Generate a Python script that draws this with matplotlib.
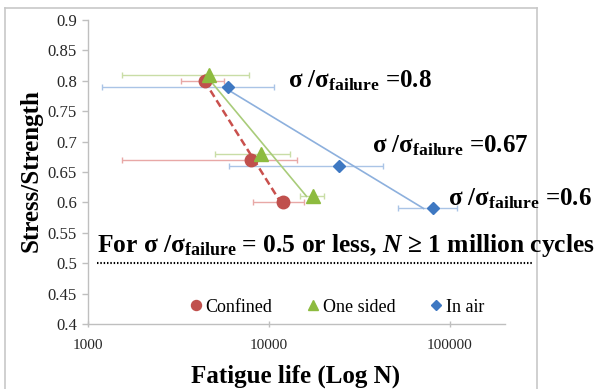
import numpy as np
import matplotlib
matplotlib.use("Agg")
import matplotlib.pyplot as plt
from matplotlib.lines import Line2D

# ---- data ----
series_names = ["Confined", "One sided", "In air"]
confined_N = [4450, 7950, 11900]
confined_S = [0.80, 0.67, 0.60]
confined_err = [1200, 6400, 3700]
onesided_N = [4650, 9050, 17500]
onesided_S = [0.81, 0.68, 0.61]
onesided_err = [3100, 4000, 2600]
inair_N = [5950, 24400, 80500]
inair_S = [0.79, 0.66, 0.59]
inair_err = [4750, 18400, 29000]
threshold = 0.5
y_ticks = [0.4, 0.45, 0.5, 0.55, 0.6, 0.65, 0.7, 0.75, 0.8, 0.85, 0.9]
y_ticklabels = ["0.4", "0.45", "0.5", "0.55", "0.6", "0.65", "0.7", "0.75", "0.8", "0.85", "0.9"]
x_ticks = [1000, 10000, 100000]
x_ticklabels = ["1000", "10000", "100000"]
ratio_labels = ["0.8", "0.67", "0.6"]

plt.rcParams.update({
    "font.family": ["Liberation Serif", "DejaVu Serif"],
    "mathtext.fontset": "custom",
    "mathtext.rm": "Liberation Serif",
    "mathtext.bf": "Liberation Serif:bold",
    "mathtext.it": "Liberation Serif:italic",
    "mathtext.bfit": "Liberation Serif:italic:bold",
})

W, H = 595, 389
fig = plt.figure(figsize=(W / 100, H / 100), dpi=100)
fig.patch.set_facecolor("white")

def fx(px):
    return px / W

def fy(py):
    return 1 - py / H

ax = fig.add_axes([fx(88), fy(324), fx(505) - fx(88), fy(20) - fy(324)])
ax.set_xscale("log")
ax.set_xlim(1000, 10 ** 5.304)
ax.set_ylim(0.4, 0.9)

styles = [
    dict(N=confined_N, S=confined_S, err=confined_err, color="#C0504D", ecolor="#E8A8A6",
         marker="o", ms=9, lcolor="#C9504D", ls=(0, (3.0, 1.6)), lw=1.8),
    dict(N=onesided_N, S=onesided_S, err=onesided_err, color="#8DBB3F", ecolor="#C9DDA6",
         marker="^", ms=9.5, lcolor="#A9CC7A", ls="-", lw=1.2),
    dict(N=inair_N, S=inair_S, err=inair_err, color="#3E78C2", ecolor="#AAC4E6",
         marker="D", ms=6.2, lcolor="#8DB0DD", ls="-", lw=1.2),
]

handles = []
for name, st in zip(series_names, styles):
    N = np.array(st["N"], dtype=float)
    S = np.array(st["S"], dtype=float)
    ax.errorbar(N, S, xerr=st["err"], fmt="none", ecolor=st["ecolor"], elinewidth=1.0,
                capsize=2.2, capthick=1.0, zorder=2)
    # trend line: regression of log10(N) on S, spanning the stress range
    b, a = np.polyfit(S, np.log10(N), 1)
    s_line = np.array([S.max(), S.min()])
    ax.plot(10 ** (a + b * s_line), s_line, color=st["lcolor"], ls=st["ls"], lw=st["lw"], zorder=3)
    ax.plot(N, S, ls="none", marker=st["marker"], ms=st["ms"], color=st["color"],
            mec=st["color"], zorder=4)
    handles.append(Line2D([], [], ls="none", marker=st["marker"], ms=st["ms"] * 0.8,
                          color=st["color"], label=name))

# threshold dotted line
ax.plot([0.022, 1.065], [threshold, threshold], transform=ax.get_yaxis_transform(),
        color="black", lw=1.5, ls=(0, (0.7, 0.9)), clip_on=False, zorder=3)

# axes styling
for side in ["top", "right"]:
    ax.spines[side].set_visible(False)
for side in ["left", "bottom"]:
    ax.spines[side].set_color("#BFBFBF")
    ax.spines[side].set_linewidth(1.0)
ax.set_yticks(y_ticks)
ax.set_yticklabels(y_ticklabels)
ax.set_xticks(x_ticks)
ax.set_xticklabels(x_ticklabels)
ax.minorticks_off()
ax.tick_params(axis="y", direction="out", length=4, width=1, color="#BFBFBF",
               labelsize=12, pad=4, labelcolor="#262626")
ax.tick_params(axis="x", direction="inout", length=5, width=1, color="#BFBFBF",
               labelsize=11, pad=8, labelcolor="#262626")

# legend
fig.legend(handles=handles, loc="center", bbox_to_anchor=(fx(338), fy(307)),
           bbox_transform=fig.transFigure, ncol=3, frameon=False, fontsize=13,
           handlelength=0.5, handletextpad=0.3, columnspacing=2.0, borderpad=0)

# axis labels
fig.text(fx(296), fy(383), "Fatigue life (Log N)", ha="center", va="baseline",
         fontsize=18, fontweight="bold")
fig.text(fx(31), fy(171), "Stress/Strength", ha="center", va="center", rotation=90,
         fontsize=18, fontweight="bold")

# annotations
sub = r"$_{\mathbf{failure}}$"
ann_pos = [(288, 87), (372, 152), (448, 205)]
for lab, (px, py) in zip(ratio_labels, ann_pos):
    fig.text(fx(px), fy(py), "σ /σ" + sub + " =" + lab, ha="left", va="baseline",
             fontsize=18, fontweight="bold")
fig.text(fx(97), fy(252), "For σ /σ" + sub + " = 0.5 or less, " + r"$\mathbfit{N}$" +
         " ≥ 1 million cycles", ha="left", va="baseline", fontsize=18.4, fontweight="bold")

# chart border
bc = "#C8C8C8"
fig.add_artist(Line2D([fx(5), fx(5)], [fy(8), 0], color=bc, lw=1.2, transform=fig.transFigure))
fig.add_artist(Line2D([fx(5), fx(537)], [fy(8), fy(8)], color=bc, lw=1.2, transform=fig.transFigure))
fig.add_artist(Line2D([fx(537), fx(537)], [fy(8), 0], color=bc, lw=1.2, transform=fig.transFigure))

fig.savefig("out.png", dpi=100)
